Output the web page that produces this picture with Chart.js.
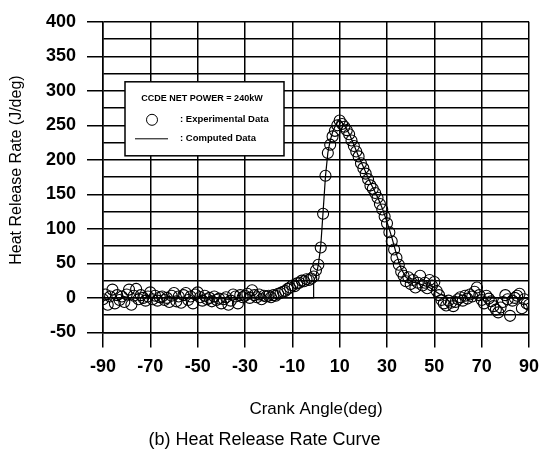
<!DOCTYPE html>
<html>
<head>
<meta charset="utf-8">
<script src="https://cdn.jsdelivr.net/npm/chart.js@4.4.0/dist/chart.umd.min.js"></script>
<style>
    html, body { margin: 0; padding: 0; background: #fff; }
    #wrap { width: 551px; height: 455px; }
</style>
</head>
<body>
<div id="wrap"><canvas id="chart" width="551" height="455"></canvas></div>
<script>
// Font used everywhere
const fontFamily = '"Liberation Sans", Arial, Helvetica, sans-serif';

// Experimental data: crank angle (deg)
const expAngles = [
    -90, -89, -88, -87, -86, -85, -84, -83, -82, -81,
    -80, -79, -78, -77, -76, -75, -74, -73, -72, -71,
    -70, -69, -68, -67, -66, -65, -64, -63, -62, -61,
    -60, -59, -58, -57, -56, -55, -54, -53, -52, -51,
    -50, -49, -48, -47, -46, -45, -44, -43, -42, -41,
    -40, -39, -38, -37, -36, -35, -34, -33, -32, -31,
    -30, -29, -28, -27, -26, -25, -24, -23, -22, -21,
    -20, -19, -18, -17, -16, -15, -14, -13, -12, -11,
    -10, -9, -8, -7, -6, -5, -4, -3, -2, -1,
    0, 1, 2, 3, 4, 5, 6, 7, 8, 9,
    10, 11, 12, 13, 14, 15, 16, 17, 18, 19,
    20, 21, 22, 23, 24, 25, 26, 27, 28, 29,
    30, 31, 32, 33, 34, 35, 36, 37, 38, 39,
    40, 41, 42, 43, 44, 45, 46, 47, 48, 49,
    50, 51, 52, 53, 54, 55, 56, 57, 58, 59,
    60, 61, 62, 63, 64, 65, 66, 67, 68, 69,
    70, 71, 72, 73, 74, 75, 76, 77, 78, 79,
    80, 81, 82, 83, 84, 85, 86, 87, 88, 89,
    90
];

// Experimental data: heat release rate (J/deg)
const expValues = [
    -2, 5, -10, 2, 12, -8, 4, -3, 2, -6,
    5, 12, -10, 3, 13, -2, 4, 0, -4, 2,
    8, -2, 3, -4, 1, 2, -3, 0, -6, 3,
    7, -5, 2, -7, 4, 7, -3, 2, -8, 5,
    8, 1, -4, 3, -2, 0, -5, 2, -3, -1,
    -8, -2, 1, -10, -4, 5, 2, -8, 4, 1,
    3, 6, 0, 11, 4, 1, 5, -2, 3, 2,
    3, 1, 4, 3, 6, 7, 9, 10, 13, 15,
    18, 17, 21, 22, 25, 24, 27, 26, 28, 31,
    40, 48, 73, 122, 177, 210, 222, 234, 242, 250,
    257, 252, 248, 243, 237, 228, 220, 212, 205, 195,
    188, 180, 172, 163, 158, 152, 145, 136, 128, 118,
    108, 95, 82, 70, 58, 48, 38, 32, 24, 30,
    20, 26, 15, 22, 32, 18, 22, 14, 26, 18,
    23, 10, 4, -3, -8, -11, -4, -7, -12, -6,
    -2, 1, -4, 3, -1, 5, 2, 9, 15, 4,
    -3, -8, 3, -1, -5, -12, -17, -21, -14, -6,
    4, -2, -26, -4, 0, 3, 6, -15, -2, -8,
    -10
];

// Computed data (line)
const compAngles = [-90, -1, -1, 0, 1, 2, 3, 4, 5, 6, 7, 8, 9, 10, 12, 14, 16, 18, 20, 22, 24, 26, 28, 30, 32, 34, 36, 38, 40, 44, 48, 52, 56, 90];
const compValues = [0, 0, 24, 32, 48, 75, 125, 176, 210, 228, 240, 248, 254, 258, 250, 238, 222, 205, 190, 174, 160, 146, 130, 110, 88, 63, 42, 30, 24, 20, 15, 6, 0, 0];

// Axis setup
const xMin = -90, xMax = 90, xStep = 20;
const yMin = -50, yMax = 400, yStep = 25, yLabelStep = 50;

// Texts
const xTitle = 'Crank Angle(deg)';
const yTitle = 'Heat Release Rate (J/deg)';
const caption = '(b) Heat Release Rate Curve';
const legendTitle = 'CCDE NET POWER = 240kW';
const expLabel = ': Experimental Data';
const compLabel = ': Computed Data';

/**
 * Zip two arrays into {x, y} points
 */
function toPoints(xs, ys) {
    var points = [];
    for (var i = 0; i < xs.length; ++i) {
        points.push({ x: xs[i], y: ys[i] });
    }
    return points;
}

// Legend box drawn inside the plot area, plus the rotated y title
const legendBox = {
    id: 'legendBox',
    afterDraw(chart) {
        const ctx = chart.ctx;
        const area = chart.chartArea;
        const x = area.left + 22, y = area.top + 60, w = 159, h = 74;
        ctx.save();
        ctx.fillStyle = '#fff';
        ctx.fillRect(x, y, w, h);
        ctx.strokeStyle = '#000';
        ctx.lineWidth = 1.5;
        ctx.strokeRect(x, y, w, h);

        ctx.fillStyle = '#000';
        ctx.textBaseline = 'middle';
        ctx.textAlign = 'center';
        ctx.font = 'bold 9px ' + fontFamily;
        ctx.fillText(legendTitle, x + 77, y + 17);

        // experimental symbol
        ctx.lineWidth = 1;
        ctx.beginPath();
        ctx.arc(x + 27, y + 38, 5.5, 0, Math.PI * 2);
        ctx.stroke();
        // computed symbol
        ctx.beginPath();
        ctx.moveTo(x + 10, y + 57);
        ctx.lineTo(x + 43, y + 57);
        ctx.stroke();

        ctx.textAlign = 'left';
        ctx.font = 'bold 9.5px ' + fontFamily;
        ctx.fillText(expLabel, x + 55, y + 38);
        ctx.fillText(compLabel, x + 55, y + 57);

        // y axis title, a little above the plot middle like the original
        ctx.translate(17, (area.top + area.bottom) / 2 - 7);
        ctx.rotate(-Math.PI / 2);
        ctx.textAlign = 'center';
        ctx.font = '16px ' + fontFamily;
        ctx.fillText(yTitle, 0, 0);
        ctx.restore();
    }
};

const config = {
    type: 'scatter',
    data: {
        datasets: [{
            label: 'Experimental Data',
            data: toPoints(expAngles, expValues),
            showLine: false,
            pointRadius: 5.5,
            pointBorderWidth: 1.1,
            pointBorderColor: '#000',
            pointBackgroundColor: 'rgba(0,0,0,0)',
        }, {
            label: 'Computed Data',
            data: toPoints(compAngles, compValues),
            showLine: true,
            borderColor: '#000',
            borderWidth: 1.2,
            pointRadius: 0,
            tension: 0,
        }]
    },
    options: {
        responsive: false,
        animation: false,
        devicePixelRatio: 1,
        layout: { padding: { left: 0, top: 15, right: 22, bottom: 0 } },
        plugins: {
            legend: { display: false },
            tooltip: { enabled: false },
            title: {
                display: true,
                text: caption,
                position: 'bottom',
                color: '#000',
                font: { family: fontFamily, size: 18, weight: 'normal' },
                padding: { top: 0, bottom: 4 }
            }
        },
        scales: {
            x: {
                type: 'linear',
                min: xMin,
                max: xMax,
                afterFit: (scale) => { scale.height = 97; },
                border: { color: '#000', width: 1.5 },
                grid: { color: '#000', lineWidth: 1.5, tickLength: 15, tickColor: '#000' },
                ticks: {
                    stepSize: xStep,
                    autoSkip: false,
                    maxRotation: 0,
                    padding: 9,
                    color: '#000',
                    font: { family: fontFamily, size: 18, weight: 'bold' }
                },
                title: {
                    display: true,
                    text: xTitle,
                    color: '#000',
                    font: { family: fontFamily, size: 17, weight: 'normal' },
                    padding: { top: 0, bottom: 10 }
                }
            },
            y: {
                type: 'linear',
                min: yMin,
                max: yMax,
                afterFit: (scale) => { scale.width = 103; },
                border: { color: '#000', width: 1.5 },
                grid: {
                    color: '#000',
                    lineWidth: 1.5,
                    tickLength: 16,
                    tickColor: (c) => (c.tick && c.tick.value % yLabelStep === 0) ? '#000' : 'rgba(0,0,0,0)'
                },
                ticks: {
                    stepSize: yStep,
                    autoSkip: false,
                    padding: 11,
                    color: '#000',
                    font: { family: fontFamily, size: 18, weight: 'bold' },
                    callback: (v) => (v % yLabelStep === 0) ? v : ''
                },
                title: { display: false }
            }
        }
    },
    plugins: [legendBox]
};

new Chart(document.getElementById('chart'), config);
</script>
</body>
</html>
